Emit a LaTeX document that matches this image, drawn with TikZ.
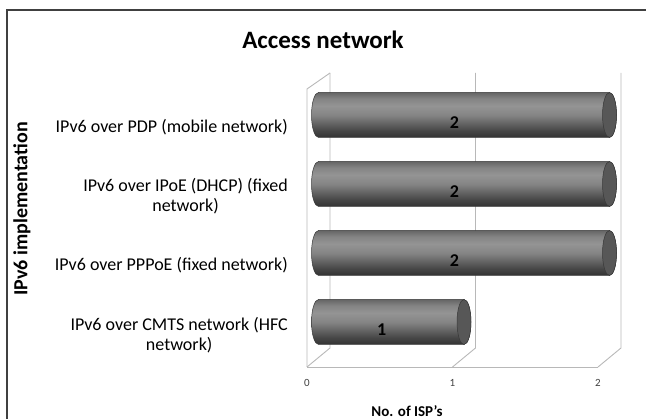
\documentclass[tikz,border=0pt]{standalone}
\usepackage{fontspec}
\setmainfont{Carlito}
\usetikzlibrary{calc}
\pgfdeclareverticalshading{barshade}{100bp}{color(0bp)=(black!80); color(25bp)=(black!80); color(33bp)=(black!72); color(50bp)=(black!48); color(60bp)=(black!42); color(68bp)=(black!48); color(75bp)=(black!60); color(100bp)=(black!60)}
\tikzset{
  wall/.style={black!28,line width=0.9pt},
  catlab/.style={align=center,anchor=east,inner sep=0pt,font=\fontsize{18}{20}\selectfont},
  ticklab/.style={inner sep=0pt,text=black!75,font=\fontsize{11}{13}\selectfont},
  vallab/.style={inner sep=0pt,font=\fontsize{18}{20}\selectfont\bfseries}
}
\begin{document}
\begin{tikzpicture}[x=1pt,y=1pt]
  \useasboundingbox (0,0) rectangle (646,419);
  % frame
  \draw[black!75,line width=1.6pt] (7,0)--(7,409)--(646,409);
  \node[font=\fontsize{25}{28}\selectfont\bfseries] (title) at (323,379) {Access network};
  % walls and gridlines
  \draw[wall] (307,52)--(307,330)--(330,346);
  \draw[wall] (307,52)--(598,52);
  \foreach \x/\n in {0/0,1/1,2/2}{
    \draw[wall] (307+145.5*\x,52)--(330+145.5*\x,71)--(330+145.5*\x,346);
    \node[ticklab] (t\n) at (307+145.5*\x,36) {\n};
  }
  % bars
  \foreach \i/\v/\yc in {1/2/304,2/2/235,3/2/166,4/1/97}{
    \pgfmathsetmacro\xr{318.5+145.5*\v}
    \shade[shading=barshade,draw=black!78,line width=0.5pt]
      (318.5,\yc+22.5) arc[start angle=90,end angle=270,x radius=7pt,y radius=22.5pt]
      --(\xr,\yc-22.5) arc[start angle=-90,end angle=90,x radius=7pt,y radius=22.5pt]--cycle;
    \draw[black!78,fill=black!66,line width=0.5pt] (\xr,\yc) ellipse[x radius=7pt,y radius=22.5pt];
    \node[vallab] (v\i) at (309+72.75*\v,\yc-7.5) {\v};
  }
  % category labels
  \node[catlab] (c1) at (288,292) {IPv6 over PDP (mobile network)};
  \node[catlab] (c2) at (288,223) {IPv6 over IPoE (DHCP) (fixed\\network)};
  \node[catlab] (c3) at (288,154) {IPv6 over PPPoE (fixed network)};
  \node[catlab] (c4) at (288,84) {IPv6 over CMTS network (HFC\\network)};
  % axis titles
  \node[rotate=90,font=\fontsize{20}{23}\selectfont\bfseries] (ytitle) at (22,210) {IPv6 implementation};
  \node[font=\fontsize{15}{17}\selectfont\bfseries] (xtitle) at (407,8) {No. of ISP's};
\end{tikzpicture}
\end{document}
